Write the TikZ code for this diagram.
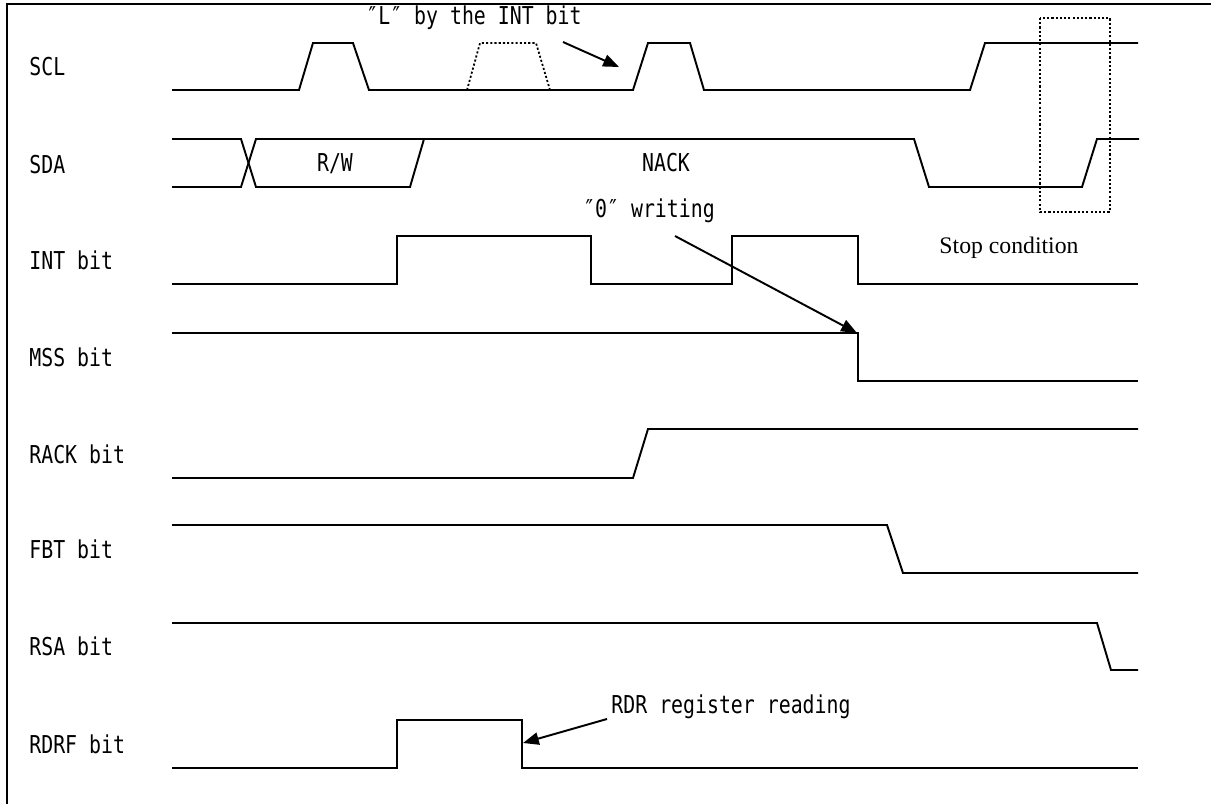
\documentclass[tikz,border=0pt]{standalone}
\usepackage{fontspec}
\usepackage{graphicx}
\setmainfont{Liberation Serif}
\setmonofont{DejaVu Sans Mono}
\usetikzlibrary{arrows.meta}
\newcommand{\sig}[1]{\scalebox{1}[1.24]{\ttfamily\fontsize{11.3pt}{13pt}\selectfont #1}}

\begin{document}
\begin{tikzpicture}[x=0.02cm,y=-0.02cm,
  point/.style={coordinate},
  lbl/.style={anchor=west, inner sep=0pt},
  note/.style={inner sep=0pt},
  wave/.style={line width=1.1pt, line join=miter},
  ghost/.style={line width=1pt, dash pattern=on 1.2pt off 1.2pt},
  pointer/.style={line width=1.1pt, -{Triangle[length=9pt,width=7pt]}}]
\useasboundingbox (0,0) rectangle (1211,804);
\draw[line width=0.85pt] (7,820) -- (7,4) -- (1230,4);
\node[lbl] (scl)  at (29,67)  {\sig{SCL}};
\node[lbl] (sda)  at (29,165) {\sig{SDA}};
\node[lbl] (int)  at (29,260) {\sig{INT bit}};
\node[lbl] (mss)  at (29,357) {\sig{MSS bit}};
\node[lbl] (rack) at (29,454) {\sig{RACK bit}};
\node[lbl] (fbt)  at (29,549) {\sig{FBT bit}};
\node[lbl] (rsa)  at (29,646) {\sig{RSA bit}};
\node[lbl] (rdrf) at (29,744) {\sig{RDRF bit}};
\node[note] (rw)   at (335,164) {\sig{R/W}};
\node[note] (nack) at (666,163) {\sig{NACK}};
\node[note] (hold) at (474,18)  {\sig{″L″ by the INT bit}};
\node[note] (zero) at (649,211) {\sig{″0″ writing}};
\node[note] (rdr)  at (731,707) {\sig{RDR register reading}};
\node[note, font=\fontsize{13.5pt}{15pt}\selectfont] (stop) at (1009,248) {Stop condition};
\node[point] (a1) at (563,42)  {};
\node[point] (a2) at (619,67)  {};
\node[point] (b1) at (675,236) {};
\node[point] (b2) at (857,333) {};
\node[point] (c1) at (607,719) {};
\node[point] (c2) at (523,743) {};
\draw[wave] (172,90) -- (299,90) -- (313,43) -- (353,43) -- (369,90) -- (633,90) -- (648,43) -- (690,43) -- (704,90) -- (970,90) -- (985,43) -- (1138,43);
\draw[ghost] (467,90) -- (480,43) -- (536,43) -- (550,90);
\draw[wave] (172,139) -- (241,139) -- (256,187) -- (410,187) -- (424,139) -- (914,139) -- (929,187) -- (1082,187) -- (1097,139) -- (1139,139);
\draw[wave] (172,187) -- (241,187) -- (256,139) -- (424,139);
\draw[ghost] (1040,18) rectangle (1110,212);
\draw[wave] (172,284) -- (397,284) -- (397,236) -- (591,236) -- (591,284) -- (732,284) -- (732,236) -- (858,236) -- (858,284) -- (1138,284);
\draw[wave] (172,333) -- (858,333) -- (858,381) -- (1138,381);
\draw[wave] (172,478) -- (633,478) -- (648,429) -- (1138,429);
\draw[wave] (172,525) -- (887,525) -- (903,573) -- (1138,573);
\draw[wave] (172,623) -- (1097,623) -- (1111,670) -- (1138,670);
\draw[wave] (172,768) -- (397,768) -- (397,720) -- (522,720) -- (522,768) -- (1138,768);
\draw[pointer] (a1) -- (a2);
\draw[pointer] (b1) -- (b2);
\draw[pointer] (c1) -- (c2);
\end{tikzpicture}
\end{document}
